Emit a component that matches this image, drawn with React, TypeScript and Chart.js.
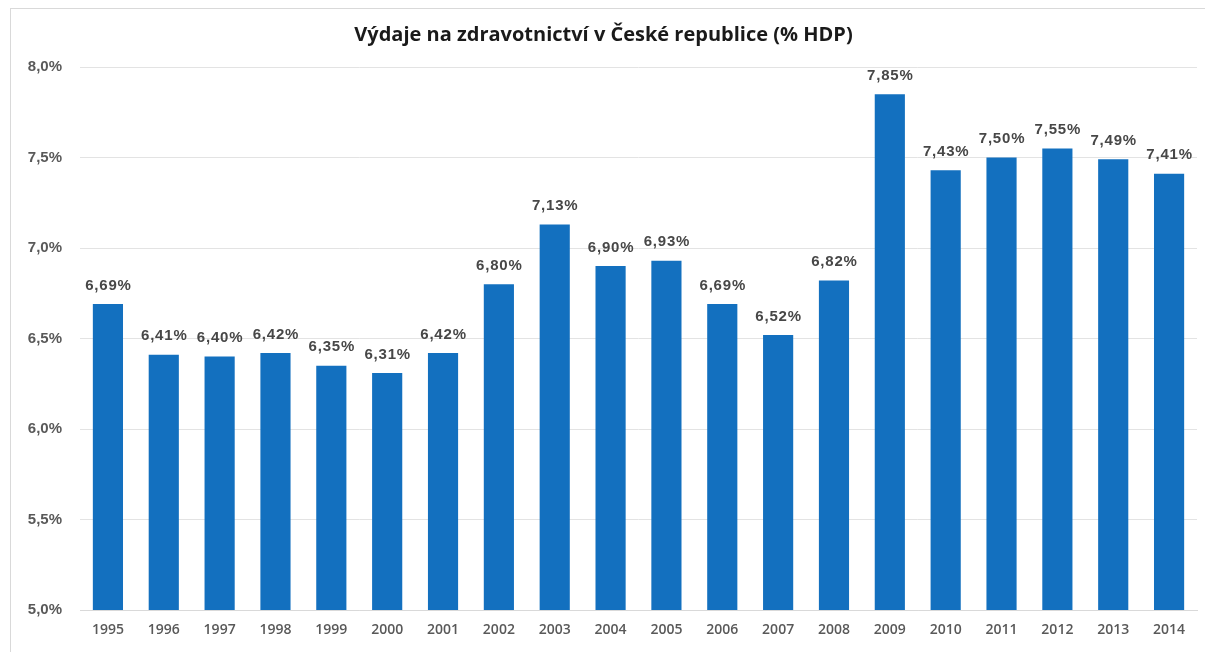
import React, { useEffect, useRef } from "react";
import { Chart, registerables } from "chart.js";

Chart.register(...registerables);

const years = ["1995","1996","1997","1998","1999","2000","2001","2002","2003","2004","2005","2006","2007","2008","2009","2010","2011","2012","2013","2014"];
const spending = [6.69,6.41,6.40,6.42,6.35,6.31,6.42,6.80,7.13,6.90,6.93,6.69,6.52,6.82,7.85,7.43,7.50,7.55,7.49,7.41];
const titleText = "Výdaje na zdravotnictví v České republice (% HDP)";

const fmt = (v: number, d: number) => v.toFixed(d).replace(".", ",") + "%";

const frame = {
  id: "frame",
  beforeDraw(chart: any) {
    const ctx = chart.ctx;
    ctx.save();
    ctx.fillStyle = "#ffffff";
    ctx.fillRect(0, 0, chart.width, chart.height);
    ctx.strokeStyle = "#d9d9d9";
    ctx.lineWidth = 1;
    ctx.strokeRect(10.5, 8.5, chart.width + 20, chart.height + 20);
    ctx.restore();
  },
};

const labels = {
  id: "barLabels",
  afterDatasetsDraw(chart: any) {
    const ctx = chart.ctx;
    const meta = chart.getDatasetMeta(0);
    const data = chart.data.datasets[0].data as number[];
    ctx.save();
    ctx.font = "bold 15px 'Liberation Sans', Arial, sans-serif";
    (ctx as any).letterSpacing = "0.8px";
    ctx.fillStyle = "#474747";
    ctx.textAlign = "center";
    ctx.textBaseline = "bottom";
    meta.data.forEach((bar: any, i: number) => {
      ctx.fillText(fmt(data[i], 2), bar.x + 0.5, bar.y - 11);
    });
    ctx.restore();
  },
};

export default function App() {
  const ref = useRef<HTMLCanvasElement>(null);
  useEffect(() => {
    if (!ref.current) return;
    const chart = new Chart(ref.current, {
      type: "bar",
      data: {
        labels: years,
        datasets: [
          {
            data: spending,
            backgroundColor: "#1370bf",
            categoryPercentage: 1,
            barPercentage: 0.54,
          },
        ],
      },
      options: {
        animation: false,
        responsive: false,
        layout: { padding: { left: 10, right: 8, top: 0, bottom: 0 } },
        plugins: {
          legend: { display: false },
          tooltip: { enabled: false },
          title: {
            display: true,
            text: titleText,
            color: "#1a1a1a",
            font: { family: "'Open Sans', sans-serif", size: 20, weight: "bold", lineHeight: 1.2 },
            padding: { top: 23, bottom: 20 },
          },
        },
        scales: {
          x: {
            grid: { display: false, drawTicks: false },
            border: { display: true, color: "#d9d9d9" },
            ticks: {
              color: "#595959",
              font: { family: "'Open Sans', sans-serif", size: 14, weight: 600 },
              padding: 12,
              maxRotation: 0,
            },
            afterFit: (s: any) => { s.height = 42; },
          },
          y: {
            min: 5,
            max: 8,
            grid: { color: "#e3e3e3", drawTicks: false },
            border: { display: false },
            ticks: {
              stepSize: 0.5,
              color: "#595959",
              font: { family: "'Liberation Sans', Arial, sans-serif", size: 15, weight: "bold" },
              padding: 18,
              callback: (v: any) => fmt(Number(v), 1),
            },
            afterFit: (s: any) => { s.width = 70; },
          },
        },
      },
      plugins: [frame, labels],
    });
    return () => chart.destroy();
  }, []);
  return (
    <div style={{ position: "fixed", left: 0, top: 0, width: 1205, height: 652, background: "#fff" }}>
      <canvas ref={ref} width={1205} height={652} style={{ display: "block" }} />
    </div>
  );
}
